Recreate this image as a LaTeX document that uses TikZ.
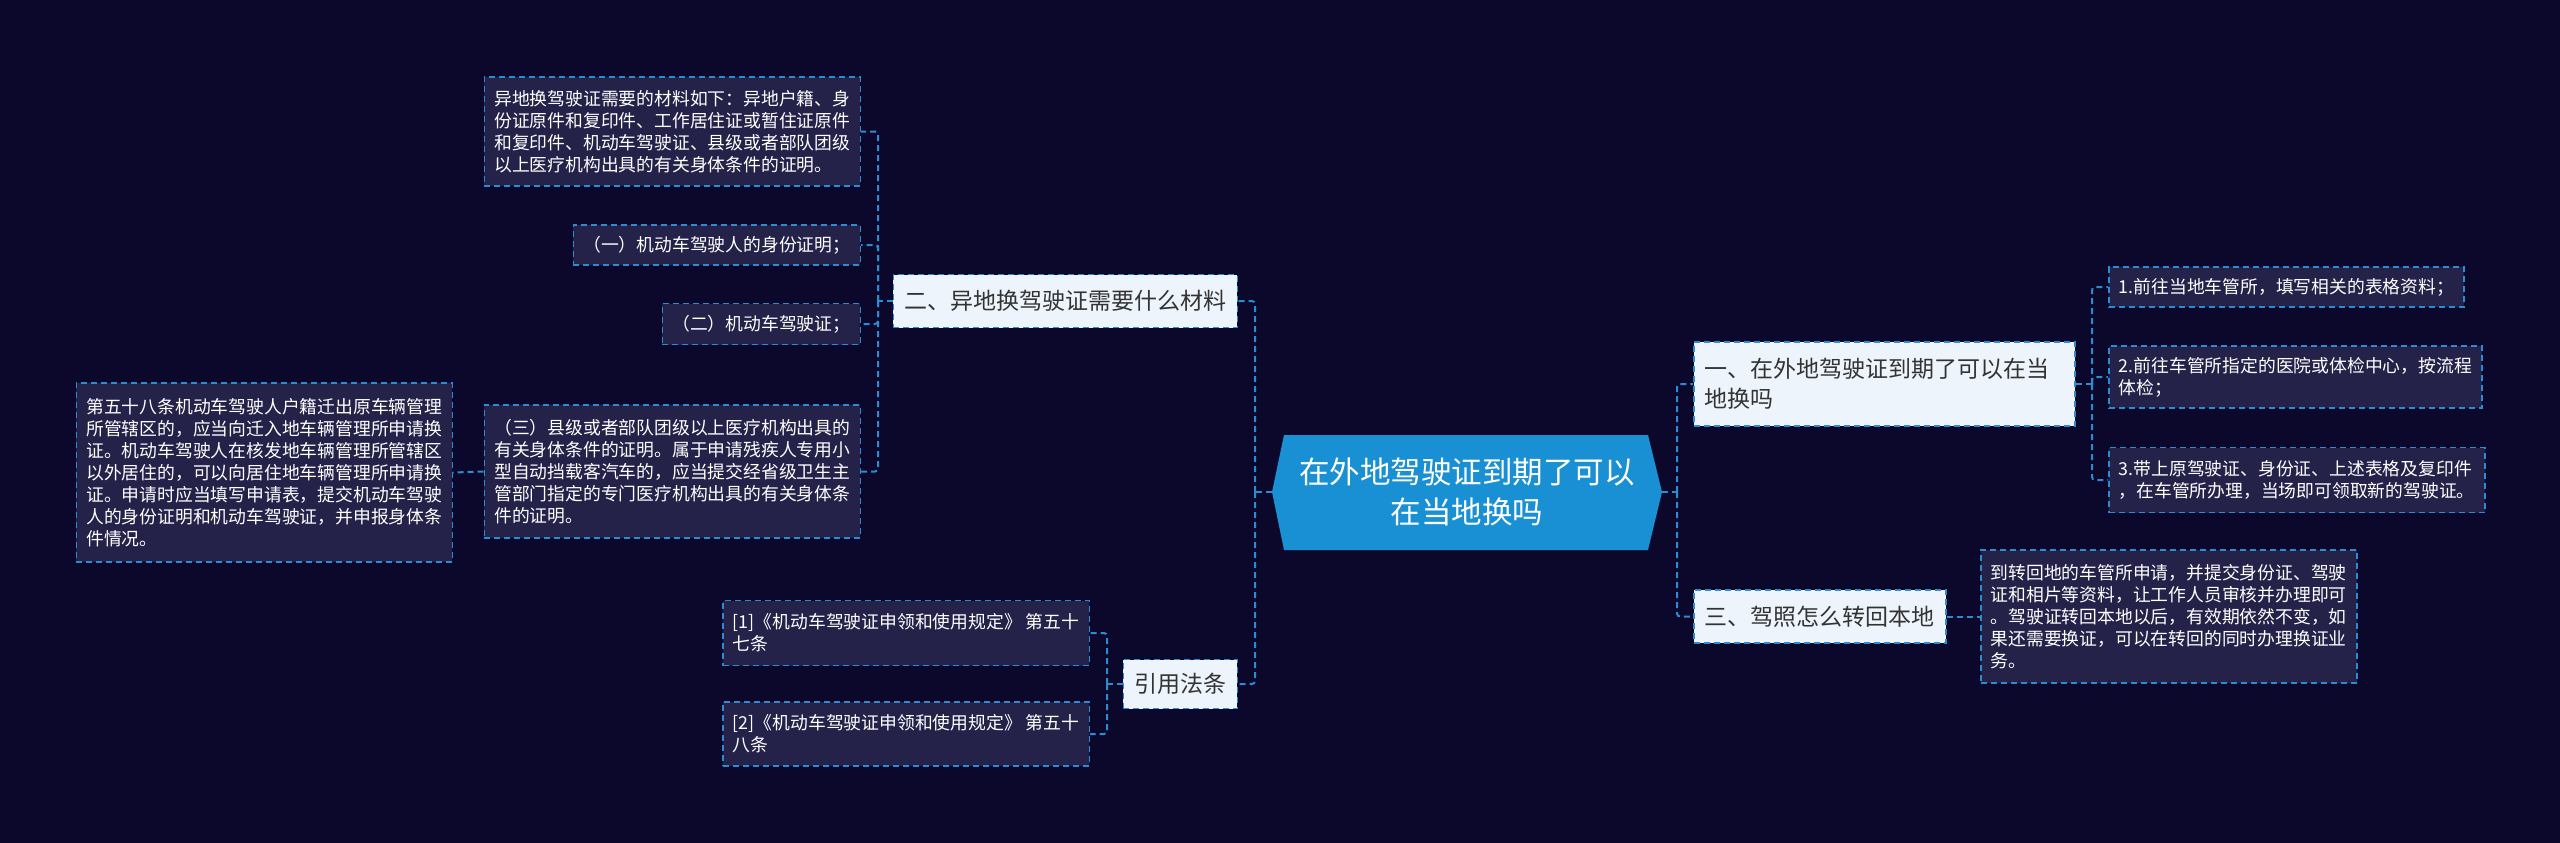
\documentclass[tikz,border=0pt]{standalone}
\usepackage{fontspec}
\newfontfamily\cjk{Noto Sans CJK SC}
\definecolor{bg}{RGB}{11,8,44}
\definecolor{leaffill}{RGB}{37,34,74}
\definecolor{lightfill}{RGB}{238,244,252}
\definecolor{lineblue}{RGB}{44,140,210}
\definecolor{rootblue}{RGB}{26,144,212}
\definecolor{darktext}{RGB}{51,51,51}
\tikzset{
  leaf/.style={draw=lineblue, line width=1.5pt, dash pattern=on 6pt off 4pt, fill=leaffill, text=white,
    font=\cjk\fontsize{17.8}{22}\selectfont, align=left, inner xsep=10pt, inner ysep=0pt},
  topic/.style={draw=lineblue, line width=1.5pt, dash pattern=on 6pt off 4pt, fill=lightfill, text=darktext,
    font=\cjk\fontsize{23}{30}\selectfont, align=left, inner xsep=11pt, inner ysep=0pt},
  conn/.style={draw=lineblue, line width=2pt, dash pattern=on 6pt off 4pt, rounded corners=3pt},
  roottext/.style={text=white, font=\cjk\fontsize{30.5}{40}\selectfont, align=center,
    minimum width=390pt, minimum height=115pt, inner sep=0pt}
}
\begin{document}
\begin{tikzpicture}[x=1pt,y=-1pt]
\useasboundingbox (0,0) rectangle (2560,843);
\fill[bg] (0,0) rectangle (2560,843);

% root
\fill[rootblue] (1272,492) -- (1284,435) -- (1648,435) -- (1662,492) -- (1648,550) -- (1284,550) -- cycle;
\node[roottext] (root) at (1467,492) {在外地驾驶证到期了可以\\在当地换吗};

% left topics
\node[topic, anchor=east, minimum height=53pt] (t2) at (1238,301) {二、异地换驾驶证需要什么材料};
\node[topic, anchor=east, minimum height=49pt] (tlaw) at (1238,684) {引用法条};

% left leaves
\node[leaf, anchor=east, minimum height=109pt] (lA) at (861,131.5) {异地换驾驶证需要的材料如下：异地户籍、身\\份证原件和复印件、工作居住证或暂住证原件\\和复印件、机动车驾驶证、县级或者部队团级\\以上医疗机构出具的有关身体条件的证明。};
\node[leaf, anchor=east, minimum height=40pt] (lB) at (861,245) {（一）机动车驾驶人的身份证明；};
\node[leaf, anchor=east, minimum height=41pt] (lC) at (861,324) {（二）机动车驾驶证；};
\node[leaf, anchor=east, minimum height=133pt] (lD) at (861,471.5) {（三）县级或者部队团级以上医疗机构出具的\\有关身体条件的证明。属于申请残疾人专用小\\型自动挡载客汽车的，应当提交经省级卫生主\\管部门指定的专门医疗机构出具的有关身体条\\件的证明。};
\node[leaf, anchor=east, minimum height=179pt] (lE) at (453,472.5) {第五十八条机动车驾驶人户籍迁出原车辆管理\\所管辖区的，应当向迁入地车辆管理所申请换\\证。机动车驾驶人在核发地车辆管理所管辖区\\以外居住的，可以向居住地车辆管理所申请换\\证。申请时应当填写申请表，提交机动车驾驶\\人的身份证明和机动车驾驶证，并申报身体条\\件情况。};
\node[leaf, anchor=east, minimum height=65pt] (lF) at (1090,633) {[1]《机动车驾驶证申领和使用规定》 第五十\\七条};
\node[leaf, anchor=east, minimum height=64pt] (lG) at (1090,734) {[2]《机动车驾驶证申领和使用规定》 第五十\\八条};

% right topics
\node[topic, anchor=west, minimum height=84pt, text width=359pt] (t1) at (1693,384) {一、在外地驾驶证到期了可以在当\\地换吗};
\node[topic, anchor=west, minimum height=53pt] (t3) at (1693,616.5) {三、驾照怎么转回本地};

% right leaves
\node[leaf, anchor=west, minimum height=40pt] (l1) at (2108,287) {1.前往当地车管所，填写相关的表格资料；};
\node[leaf, anchor=west, minimum height=62pt] (l2) at (2108,377) {2.前往车管所指定的医院或体检中心，按流程\\体检；};
\node[leaf, anchor=west, minimum height=65pt] (l3) at (2108,480) {3.带上原驾驶证、身份证、上述表格及复印件\\，在车管所办理，当场即可领取新的驾驶证。};
\node[leaf, anchor=west, minimum height=133pt] (lH) at (1980,616.5) {到转回地的车管所申请，并提交身份证、驾驶\\证和相片等资料，让工作人员审核并办理即可\\。驾驶证转回本地以后，有效期依然不变，如\\果还需要换证，可以在转回的同时办理换证业\\务。};

% junctions
\coordinate (jRootL) at (1255,492);
\coordinate (jRootR) at (1677,492);
\coordinate (j2) at (878,301);
\coordinate (jLaw) at (1107,684);
\coordinate (j1) at (2092,384);

% connectors
\draw[conn] (root.west) -- (jRootL);
\draw[conn] (jRootL) |- (t2.east);
\draw[conn] (jRootL) |- (tlaw.east);
\draw[conn] (t2.west) -- (j2);
\draw[conn] (j2) |- (lA.east);
\draw[conn] (j2) |- (lB.east);
\draw[conn] (j2) |- (lC.east);
\draw[conn] (j2) |- (lD.east);
\draw[conn] (lD.west) -- (lE.east);
\draw[conn] (tlaw.west) -- (jLaw);
\draw[conn] (jLaw) |- (lF.east);
\draw[conn] (jLaw) |- (lG.east);
\draw[conn] (root.east) -- (jRootR);
\draw[conn] (jRootR) |- (t1.west);
\draw[conn] (jRootR) |- (t3.west);
\draw[conn] (t1.east) -- (j1);
\draw[conn] (j1) |- (l1.west);
\draw[conn] (j1) |- (l2.west);
\draw[conn] (j1) |- (l3.west);
\draw[conn] (t3.east) -- (lH.west);
\end{tikzpicture}
\end{document}
